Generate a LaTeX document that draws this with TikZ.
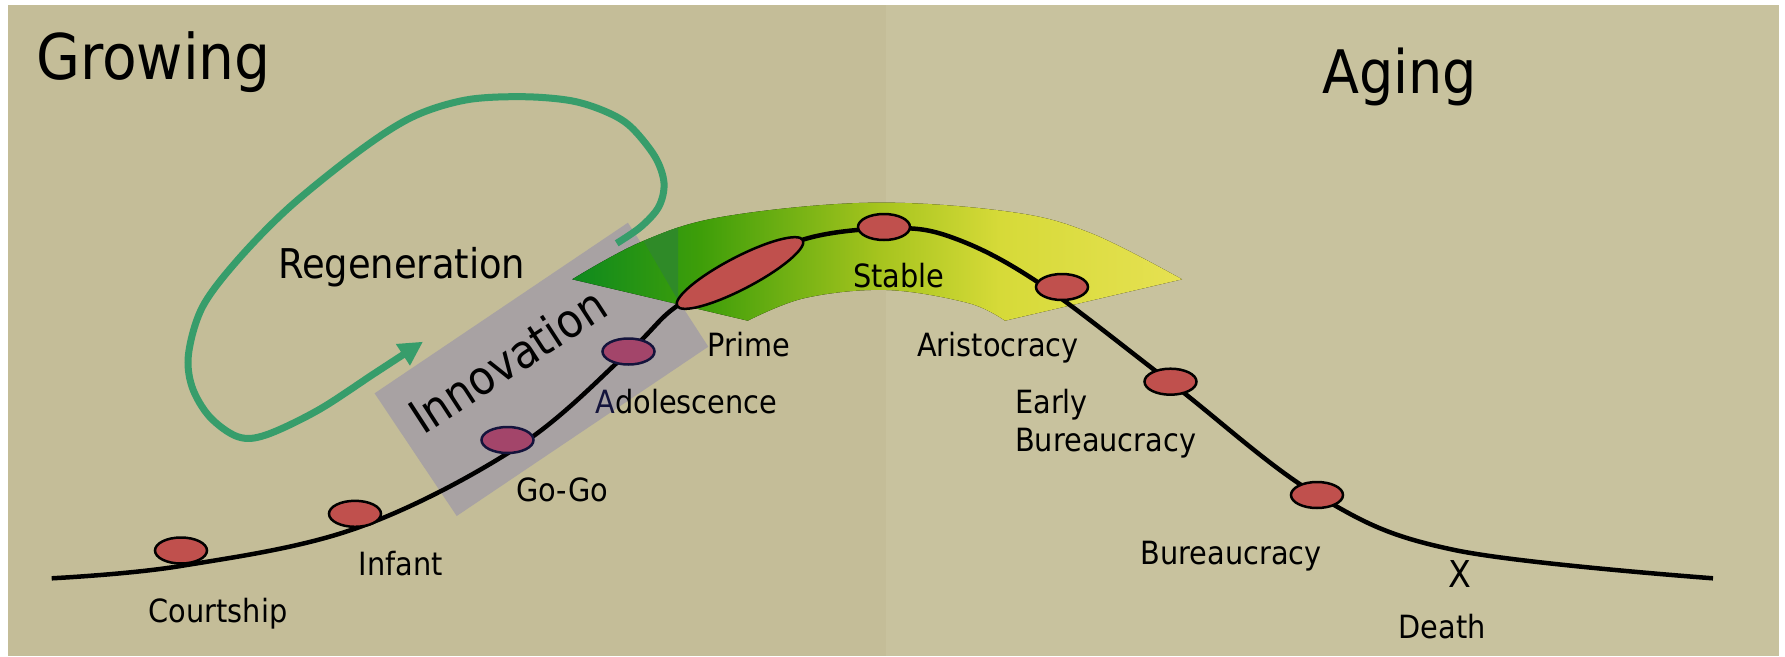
\documentclass[tikz,border=0pt]{standalone}
\usepackage{fontspec}
\setmainfont{DejaVu Sans Condensed}
\usetikzlibrary{arrows.meta,shapes.geometric}
\definecolor{bgL}{HTML}{C4BD98}
\definecolor{bgR}{HTML}{C8C29E}
\definecolor{dotred}{HTML}{C0504D}
\definecolor{dotpur}{HTML}{A3456A}
\definecolor{navy}{HTML}{14143C}
\definecolor{rectgray}{HTML}{A8A2A3}
\definecolor{loopgreen}{HTML}{379D6B}
\definecolor{olivegreen}{HTML}{2F8A28}
\definecolor{bga}{HTML}{0E8A1E}
\definecolor{bgb}{HTML}{3E9E09}
\definecolor{bgc}{HTML}{A6C41E}
\definecolor{bgd}{HTML}{D6DA38}
\definecolor{bge}{HTML}{E6E152}
\pgfdeclarehorizontalshading{bandshade}{100bp}{color(0bp)=(bga); color(25bp)=(bga); color(35.5bp)=(bgb); color(50.2bp)=(bgc); color(60bp)=(bgd); color(75bp)=(bge); color(100bp)=(bge)}
\def\bandpath{plot[smooth,tension=0.6] coordinates {(572.2,279.3) (641.6,241.7) (723,216.7) (870,202.7) (1009,211.7) (1090.6,233) (1182,279.3)} -- plot[smooth,tension=0.6] coordinates {(1005,320.7) (968,303) (886.5,290) (805,298) (747.8,320.7)} -- cycle}
\tikzset{
  dot/.style={ellipse, draw=black, line width=2.5pt, fill=dotred, minimum width=52pt, minimum height=26pt, inner sep=0pt},
  pdot/.style={dot, draw=navy, fill=dotpur},
  lbl/.style={font=\fontsize{32}{38}\selectfont, anchor=base, inner sep=0pt},
  big/.style={font=\fontsize{60}{70}\selectfont, anchor=base west, inner sep=0pt},
  curve/.style={line width=4.5pt, black, line cap=butt},
  loop/.style={line width=7pt, loopgreen, -{Triangle[length=24pt,width=24pt]}}
}
\begin{document}
\begin{tikzpicture}[x=1pt,y=-1pt]
\useasboundingbox (0,0) rectangle (1785,656);
\fill[white] (0,0) rectangle (1785,656);
\fill[bgL] (8,5) rectangle (886,656);
\fill[bgR] (886,5) rectangle (1779,656);
% innovation box
\fill[rectgray] (374.6,393.3) -- (627.9,222.7) -- (708.3,346.7) -- (456.7,516) -- cycle;
% stable band
\fill[shading=bandshade] \bandpath;
\begin{scope}
\clip \bandpath;
\fill[olivegreen] (640,235) -- (629,218) -- (678,210) -- (678,304) -- (679.6,303) -- cycle;
\end{scope}
% life curve
\draw[curve] plot[smooth,tension=0.6] coordinates {(51.7,578.3) (180.6,566) (356,528.3) (518,446.7) (628.3,352.3) (676,306.7) (740,272) (804,239.3) (884,228.5) (948,236) (1036,281) (1170,382) (1317,495) (1454.5,550) (1713,578.3)};
% dots
\node[dot] (court) at (181,550.5) {};
\node[dot] (infant) at (355,513.8) {};
\node[pdot] (gogo) at (507.5,440) {};
\node[pdot] (adol) at (628.5,351.5) {};
\node[dot, minimum width=142pt, minimum height=32pt, rotate=27.6] (prime) at (740,273) {};
\node[dot] (stable) at (884,227) {};
\node[dot] (arist) at (1062,287) {};
\node[dot] (early) at (1170.5,381.7) {};
\node[dot] (bureau) at (1317,495) {};
% labels
\node[big, font=\fontsize{63}{72}\selectfont] (growing) at (36,79.5) {Growing};
\node[big] (aging) at (1322,93) {Aging};
\node[font=\fontsize{41}{48}\selectfont, anchor=base west, inner sep=0pt] (regen) at (278,278) {Regeneration};
\node[font=\fontsize{47}{54}\selectfont, anchor=base, inner sep=0pt, rotate=33] (innov) at (517,375) {Innovation};
\node[lbl] (lcourt) at (218,622) {Courtship};
\node[lbl] (linfant) at (400.7,575) {Infant};
\node[lbl] (lgogo) at (562.5,501) {Go-Go};
\node[lbl] (ladol) at (686.5,413.5) {{\color{navy}A}dolescence};
\node[lbl] (lprime) at (749,356) {Prime};
\node[lbl] (lstable) at (899,287) {Stable};
\node[lbl] (larist) at (998,356) {Aristocracy};
\node[lbl, anchor=base west] (learly) at (1015,413) {Early};
\node[lbl, anchor=base west] (learly2) at (1015,451.7) {Bureaucracy};
\node[lbl] (lbureau) at (1231,564) {Bureaucracy};
\node[font=\fontsize{37}{44}\selectfont, anchor=base, inner sep=0pt] (x) at (1460,587) {X};
\node[lbl] (ldeath) at (1442,638) {Death};
% regeneration loop
\draw[loop] plot[smooth,tension=0.55] coordinates {(616.7,243.3) (641,226.7) (658.8,206.7) (664,183) (655,156.7) (630.7,126.7) (606,111.7) (571,100.7) (522,96.7) (465.8,100) (413,116.7) (360.5,150) (290,206.7) (237.7,260) (202.6,306.7) (188.6,353.3) (192,386.7) (209.6,416.7) (237.7,436.7) (265.8,435) (318.4,410) (374.6,373.3) (423,341.7)};
\end{tikzpicture}
\end{document}
